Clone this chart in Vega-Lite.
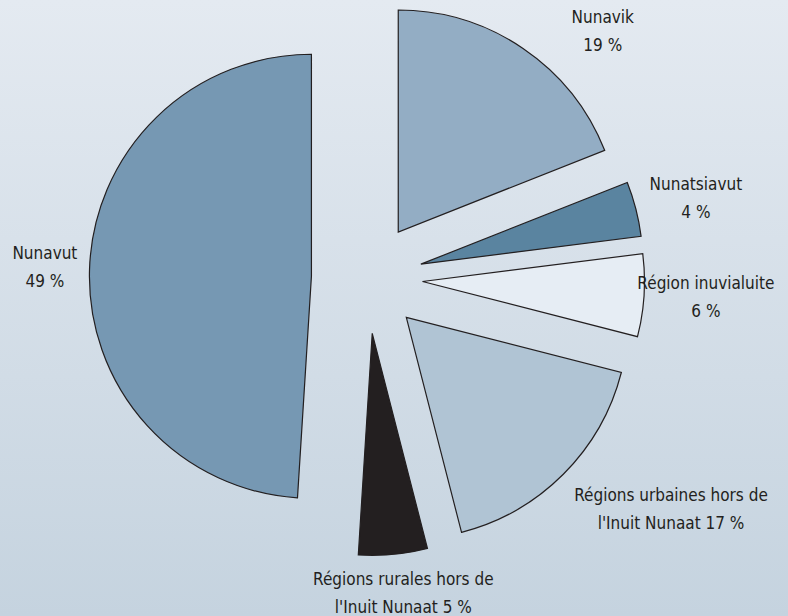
{
  "$schema": "https://vega.github.io/schema/vega-lite/v6.json",
  "width": 788,
  "height": 616,
  "padding": 0,
  "autosize": {"type": "none"},
  "background": "#d6e0e9",
  "config": {"view": {"stroke": null}},
  "layer": [
    {
      "data": {"values": [{}]},
      "mark": {
        "type": "rect",
        "x": 0, "x2": "width", "y": 0, "y2": "height",
        "fill": {"gradient": "linear", "x1": 0, "y1": 0, "x2": 0, "y2": 1,
          "stops": [{"offset": 0, "color": "#e4eaf1"}, {"offset": 1, "color": "#c5d3df"}]}
      },
      "encoding": {}
    },
    {
      "data": {"values": [
        {"region": "Nunavik", "label": "Nunavik\n19 %", "pct": 19},
        {"region": "Nunatsiavut", "label": "Nunatsiavut\n4 %", "pct": 4},
        {"region": "Région inuvialuite", "label": "Région inuvialuite\n6 %", "pct": 6},
        {"region": "Régions urbaines hors de l'Inuit Nunaat", "label": "Régions urbaines hors de\nl'Inuit Nunaat 17 %", "pct": 17},
        {"region": "Régions rurales hors de l'Inuit Nunaat", "label": "Régions rurales hors de\nl'Inuit Nunaat 5 %", "pct": 5},
        {"region": "Nunavut", "label": "Nunavut\n49 %", "pct": 49}
      ]},
      "transform": [
        {"window": [{"op": "sum", "field": "pct", "as": "end"}], "frame": [null, 0]},
        {"calculate": "datum.end - datum.pct", "as": "start"},
        {"calculate": "(datum.start + datum.pct / 2) * PI / 50", "as": "mid"},
        {"calculate": "55.6 * sin(datum.mid)", "as": "cx"},
        {"calculate": "-55.6 * cos(datum.mid)", "as": "cy"},
        {"calculate": "max(length(split(datum.label, '\\n')[0]), length(split(datum.label, '\\n')[1])) * 3.95 + 3", "as": "ha"},
        {"calculate": "max(abs(sin(datum.mid)), abs(cos(datum.mid)))", "as": "k"},
        {"calculate": "datum.cx + 236 * sin(datum.mid) + datum.ha * sin(datum.mid) / datum.k", "as": "lx0"},
        {"calculate": "datum.cy - 236 * cos(datum.mid) - 26 * cos(datum.mid) / datum.k", "as": "ly0"},
        {"calculate": "clamp(datum.lx0, datum.ha + 8 - 367, 780 - datum.ha - 367)", "as": "lx1"},
        {"calculate": "clamp(datum.ly0, 32 - 278, 594 - 278)", "as": "ly"},
        {"calculate": "pow(246, 2) - pow(clamp(datum.cy, datum.ly - 26, datum.ly + 26) - datum.cy, 2)", "as": "dd"},
        {"calculate": "(abs(datum.ly - datum.ly0) > 6 && datum.dd > 0) ? (sin(datum.mid) > 0 ? max(datum.lx1, datum.cx + datum.ha + sqrt(datum.dd)) : min(datum.lx1, datum.cx - datum.ha - sqrt(datum.dd))) : datum.lx1", "as": "lx"}
      ],
      "layer": [
        {
          "mark": {"type": "arc", "radius": 222, "stroke": "#231f20", "strokeWidth": 1.2},
          "encoding": {
            "x": {"field": "cx", "type": "quantitative", "stack": null, "axis": null,
              "scale": {"domain": [-367, 421], "nice": false, "zero": false}},
            "y": {"field": "cy", "type": "quantitative", "stack": null, "axis": null,
              "scale": {"domain": [-278, 338], "reverse": true, "nice": false, "zero": false}},
            "theta": {"field": "start", "type": "quantitative", "stack": null,
              "scale": {"domain": [0, 100], "range": [0, 6.283185307179586]}},
            "theta2": {"field": "end"},
            "color": {"field": "region", "type": "nominal", "legend": null,
              "scale": {
                "domain": ["Nunavik", "Nunatsiavut", "Région inuvialuite", "Régions urbaines hors de l'Inuit Nunaat", "Régions rurales hors de l'Inuit Nunaat", "Nunavut"],
                "range": ["#93adc4", "#5a84a0", "#e6edf4", "#b0c4d4", "#231f20", "#7698b3"]}}
          }
        },
        {
          "mark": {"type": "text", "align": "center", "baseline": "middle", "lineBreak": "\n", "lineHeight": 28, "dy": -14,
            "font": "DejaVu Sans Condensed, sans-serif", "fontSize": 17, "color": "#231f20"},
          "encoding": {
            "x": {"field": "lx", "type": "quantitative", "stack": null, "axis": null},
            "y": {"field": "ly", "type": "quantitative", "stack": null, "axis": null},
            "text": {"field": "label"}
          }
        }
      ]
    }
  ]
}
